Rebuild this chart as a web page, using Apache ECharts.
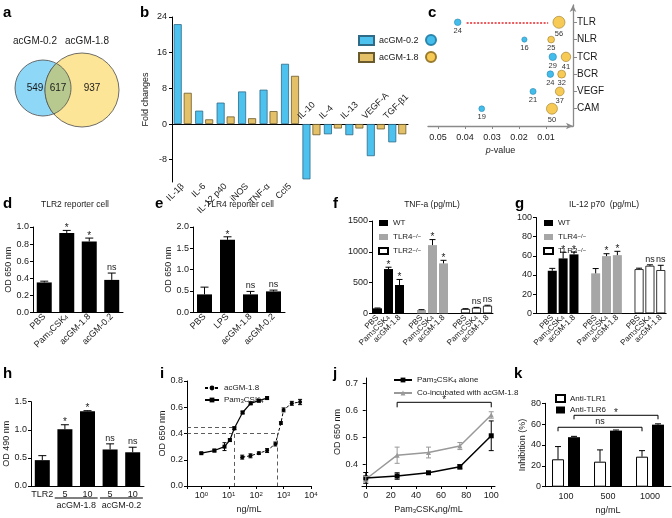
<!DOCTYPE html>
<html><head><meta charset="utf-8">
<script src="https://cdn.jsdelivr.net/npm/echarts@6/dist/echarts.min.js"></script>
<style>html,body{margin:0;padding:0;background:#fff}#c{width:672px;height:518px}</style>
</head><body><div id="c"></div>
<script>
// ---------------- DATA ----------------
// a: Venn
const vennNames = ['acGM-0.2', 'acGM-1.8'];
const vennCounts = [549, 617, 937];
// b: fold changes
const bCategories = ['IL-1β','IL-6','IL-12 p40','iNOS','TNF-α','Ccl5','IL-10','IL-4','IL-13','VEGF-A','TGF-β1'];
const bAcGM02 = [22.4, 3.0, 4.8, 7.3, 7.7, 13.5, -12.4, -2.3, -2.5, -7.2, -4.1];
const bAcGM18 = [7.0, 1.05, 1.7, 1.3, 2.9, 10.8, -2.5, -1.0, -1.0, -1.2, -2.3];
const bTicks = [-8, 0, 8, 16, 24];
// c: pathways (bottom to top)
const cPathways = ['CAM','VEGF','BCR','TCR','NLR','TLR'];
const cP02 = [0.0338, 0.0148, 0.0084, 0.0075, 0.018, 0.0427];
const cN02 = [19, 21, 24, 29, 16, 24];
const cP18 = [0.0078, 0.0049, 0.0042, 0.0026, 0.0081, 0.0052];
const cN18 = [50, 37, 32, 41, 25, 56];
const cTicks = [0.01, 0.02, 0.03, 0.04, 0.05];
// d: TLR2 reporter
const dCategories = ['PBS','Pam3CSK4','acGM-1.8','acGM-0.2'];
const dMean = [0.35, 0.93, 0.83, 0.38];
const dErr = [0.015, 0.03, 0.04, 0.08];
const dSig = ['', '*', '*', 'ns'];
// e: TLR4 reporter
const eCategories = ['PBS','LPS','acGM-1.8','acGM-0.2'];
const eMean = [0.42, 1.70, 0.42, 0.49];
const eErr = [0.17, 0.07, 0.07, 0.03];
const eSig = ['', '*', 'ns', 'ns'];
// f/g groups
const fgTreatments = ['PBS','Pam3CSK4','acGM-1.8'];
const fgGenotypes = ['WT','TLR4','TLR2'];
const fgSig = [['', '*', '*'], ['', '*', '*'], ['', 'ns', 'ns']];
// f: TNF-a
const fWT = [81, 719, 460];     const fWTErr = [5, 30, 90];
const fTLR4 = [54, 1108, 811];  const fTLR4Err = [5, 90, 50];
const fTLR2 = [70, 91, 123];    const fTLR2Err = [5, 5, 8];
// g: IL-12 p70
const gWT = [44.4, 57.3, 61.5];   const gWTErr = [2.5, 6.5, 2.5];
const gTLR4 = [41.7, 59.7, 60.7]; const gTLR4Err = [5, 2.5, 4];
const gTLR2 = [46.1, 49.6, 45.1]; const gTLR2Err = [1, 1, 5];
// h
const hCategories = ['TLR2','5','10','5','10'];
const hGroups = ['acGM-1.8','acGM-0.2'];
const hMean = [0.46, 1.01, 1.33, 0.65, 0.60];
const hErr = [0.08, 0.08, 0.01, 0.10, 0.09];
const hSig = ['', '*', '*', 'ns', 'ns'];
// i: dose response (log x)
const iAcGMConc = [31, 62, 125, 250, 500, 800, 1000, 2000, 4000];
const iAcGMOD   = [0.22, 0.23, 0.25, 0.27, 0.32, 0.48, 0.58, 0.63, 0.64];
const iAcGMErr  = [0.015, 0.015, 0.01, 0.015, 0.015, 0.01, 0.015, 0.015, 0.02];
const iPamConc = [1, 3, 7, 11, 16, 32, 63, 125, 250];
const iPamOD   = [0.25, 0.27, 0.30, 0.35, 0.44, 0.56, 0.63, 0.65, 0.67];
const iPamErr  = [0.005, 0.01, 0.03, 0.01, 0.01, 0.01, 0.01, 0.01, 0.01];
const iRefOD = [0.45, 0.40];
const iRefConc = [16, 600];
// j
const jConc = [0, 25, 50, 75, 100];
const jAlone = [0.350, 0.357, 0.369, 0.391, 0.506];
const jAloneErr = [0.02, 0.012, 0.004, 0.008, 0.055];
const jCo = [0.345, 0.434, 0.444, 0.468, 0.583];
const jCoErr = [0.01, 0.03, 0.02, 0.013, 0.012];
const jXTicks = [0, 20, 40, 60, 80, 100];
const jYTicks = [0.4, 0.5, 0.6, 0.7];
// k
const kCategories = ['100','500','1000'];
const kTLR1 = [26.3, 24.0, 28.8]; const kTLR1Err = [12.2, 11.3, 5.8];
const kTLR6 = [47.5, 53.8, 59.5]; const kTLR6Err = [0.8, 0.6, 0.8];

// ---------------- HELPERS ----------------
const FONT = '"Liberation Sans", Arial, Helvetica, sans-serif';
const INK = '#1a1a1a';
const BLUE = '#4ec2ef', BLUE_B = '#2f6a86', YEL = '#e4c068', YEL_B = '#6b5a2c';
const GRAY = '#a6a6a6';
function merge(a, b) {
  const r = Object.assign({}, a);
  for (const k in b) {
    const v = b[k];
    if (v && typeof v === 'object' && !Array.isArray(v) && a[k] && typeof a[k] === 'object' && !Array.isArray(a[k])) r[k] = merge(a[k], v);
    else r[k] = v;
  }
  return r;
}
const richSub = {
  sub: {fontSize: 6, lineHeight: 6, verticalAlign: 'bottom', fontFamily: FONT, color: INK},
  sup: {fontSize: 6, lineHeight: 6, verticalAlign: 'top', fontFamily: FONT, color: INK},
  i: {fontStyle: 'italic', fontSize: 9, fontFamily: FONT, color: INK}
};
const subFmt = s => s.replace('Pam3CSK4', 'Pam{sub|3}CSK{sub|4}');
const blackLine = {show: true, lineStyle: {color: '#000', width: 1}};
function yVal(gi, o) {
  return merge({type: 'value', gridIndex: gi, axisLine: blackLine,
    axisTick: {show: true, length: 3, lineStyle: {color: '#000'}},
    axisLabel: {fontSize: 9, margin: 4, color: INK, formatter: v => String(v)},
    splitLine: {show: false}, nameLocation: 'middle',
    nameTextStyle: {fontSize: 9, color: INK, rich: richSub}}, o);
}
function xCat(gi, data, o) {
  return merge({type: 'category', gridIndex: gi, data: data, axisLine: blackLine,
    axisTick: {show: false},
    axisLabel: {fontSize: 9, margin: 3, interval: 0, color: INK, rich: richSub, formatter: v => subFmt(v)},
    nameLocation: 'middle', nameTextStyle: {fontSize: 9, color: INK, rich: richSub}}, o);
}
function errSeries(ai, pts, opts) {
  return {
    type: 'custom', xAxisIndex: ai, yAxisIndex: ai, z: 6, silent: true,
    data: pts.map(p => [p.x, p.y, p.e]),
    renderItem: (params, api) => {
      const p = pts[params.dataIndex];
      const c = api.coord([p.x, p.y]);
      const t = api.coord([p.x, p.y + p.e]);
      const b = api.coord([p.x, p.y - p.e]);
      const x = c[0] + (p.off || 0);
      const cw = opts.cap;
      const st = {stroke: p.color || '#000', lineWidth: 1};
      const ch = [];
      if (p.e > 0) {
        ch.push({type: 'line', shape: {x1: x, y1: opts.both ? b[1] : c[1], x2: x, y2: t[1]}, style: st});
        ch.push({type: 'line', shape: {x1: x - cw, y1: t[1], x2: x + cw, y2: t[1]}, style: st});
        if (opts.both) ch.push({type: 'line', shape: {x1: x - cw, y1: b[1], x2: x + cw, y2: b[1]}, style: st});
      }
      const top = p.e > 0 ? t[1] : c[1];
      if (p.label) ch.push({type: 'text', x: x, y: top - (p.label === '*' ? -3 : 1),
        style: {text: p.label, textAlign: 'center', textVerticalAlign: 'bottom',
          fontSize: p.label === '*' ? 10 : 9, fontFamily: FONT, fill: INK}});
      return {type: 'group', children: ch};
    }
  };
}
function bracketSeries(ai, items, tick) {
  return {
    type: 'custom', xAxisIndex: ai, yAxisIndex: ai, z: 6, silent: true,
    data: items.map(it => [it.x1, it.y, it.x2]),
    renderItem: (params, api) => {
      const it = items[params.dataIndex];
      const a = api.coord([it.x1, it.y]);
      const b = api.coord([it.x2, it.y]);
      const o = it.off || 0;
      return {type: 'group', children: [
        {type: 'polyline', shape: {points: [[a[0] + o, a[1] + tick], [a[0] + o, a[1]], [b[0] + o, b[1]], [b[0] + o, b[1] + tick]]},
          style: {stroke: '#000', lineWidth: 1, fill: null}},
        {type: 'text', x: (a[0] + b[0]) / 2 + o, y: a[1] - (it.label === '*' ? -3 : 1),
          style: {text: it.label, textAlign: 'center', textVerticalAlign: 'bottom',
            fontSize: it.label === '*' ? 10 : 9, fontFamily: FONT, fill: INK}}
      ]};
    }
  };
}
function txt(x, y, s, size, o) {
  return merge({type: 'text', x: x, y: y, silent: true,
    style: {text: s, fontSize: size, fontFamily: FONT, fill: INK, textAlign: 'center', textVerticalAlign: 'middle'}}, o || {});
}
function letter(x, y, s) {
  return txt(x, y, s, 15, {style: {fontWeight: 'bold', textAlign: 'left', textVerticalAlign: 'top', fill: '#000'}});
}
// Venn lens (intersection of two circles) as polygon
function lens(c1, r1, c2, r2) {
  const dx = c2[0] - c1[0], dy = c2[1] - c1[1], d = Math.hypot(dx, dy);
  const a = (d * d + r1 * r1 - r2 * r2) / (2 * d);
  const h = Math.sqrt(r1 * r1 - a * a);
  const ux = dx / d, uy = dy / d;
  const m = [c1[0] + a * ux, c1[1] + a * uy];
  const p1 = [m[0] - h * uy, m[1] + h * ux], p2 = [m[0] + h * uy, m[1] - h * ux];
  const pts = [];
  const arc = (c, r, from, to, n) => {
    let a0 = Math.atan2(from[1] - c[1], from[0] - c[0]);
    let a1 = Math.atan2(to[1] - c[1], to[0] - c[0]);
    let diff = a1 - a0;
    while (diff > Math.PI) diff -= 2 * Math.PI;
    while (diff < -Math.PI) diff += 2 * Math.PI;
    for (let k = 0; k <= n; k++) { const t = a0 + diff * k / n; pts.push([c[0] + r * Math.cos(t), c[1] + r * Math.sin(t)]); }
  };
  arc(c1, r1, p1, p2, 40);
  arc(c2, r2, p2, p1, 40);
  return pts;
}

// f / g slot layout
const fCats = [], gCats = [' '];
fgGenotypes.forEach((g, gi) => {
  fgTreatments.forEach(t => { fCats.push(t); gCats.push(t); });
  if (gi < fgGenotypes.length - 1) { fCats.push(' '.repeat(gi + 2)); gCats.push(' '.repeat(gi + 2)); }
});
const fSlot = (g, t) => g * 4 + t;
const gSlot = (g, t) => 1 + g * 4 + t;
const genoColors = ['#000', GRAY, '#fff'];
function groupSeries(ai, vals, slotFn, n) {
  return vals.map((v, g) => {
    const arr = new Array(n).fill('-');
    v.forEach((y, t) => { arr[slotFn(g, t)] = y; });
    return {type: 'bar', name: fgGenotypes[g], xAxisIndex: ai, yAxisIndex: ai, stack: 's' + ai, barWidth: 9,
      data: arr, itemStyle: {color: genoColors[g], borderColor: '#000', borderWidth: g === 2 ? 0.8 : 0}};
  });
}
function groupErr(ai, vals, errs, slotFn) {
  const pts = [];
  vals.forEach((v, g) => v.forEach((y, t) => pts.push({x: slotFn(g, t), y: y, e: errs[g][t], label: fgSig[g][t]})));
  return errSeries(ai, pts, {cap: 3});
}
const genoFmt = n => n === 'WT' ? 'WT' : n + '{sup|−/−}';
const iNames = {iAcGM: 'acGM-1.8', iPam: 'Pam{sub|3}CSK{sub|4}'};
const jNames = {jAlone: 'Pam{sub|3}CSK{sub|4} alone', jCo: 'Co-incubated with acGM-1.8'};
const I_MIN = 0.3;
const legendText = {fontSize: 8, color: INK, fontFamily: FONT, rich: richSub};
const vennBlue = [[43, 88], 28], vennYel = [[82, 90], 37];

// ---------------- OPTION ----------------
const G = (left, top, width, height) => ({left, top, width, height});
const option = {
  animation: false,
  textStyle: {fontFamily: FONT, color: INK},
  grid: [
    G(172, 17, 236, 165),     // b
    G(428, 1.4, 145, 124.6),  // c
    G(33, 227, 90, 85.3),     // d
    G(193, 227, 92, 85.3),    // e
    G(372, 221, 121, 92.3),   // f
    G(536, 217.5, 130.2, 95.8), // g
    G(31, 401.7, 113, 84.3),  // h
    G(187, 381, 124, 105),    // i
    G(362, 378, 133, 108),    // j
    G(545, 403.3, 126, 83.4)  // k
  ],
  xAxis: [
    xCat(0, bCategories, {axisLabel: {rotate: 45, margin: 3, formatter: (v, i) => bAcGM02[i] >= 0 ? v : ''}}),
    {type: 'value', gridIndex: 1, inverse: true, min: 0, max: 0.0537,
      axisLine: {show: true, symbol: ['none', 'arrow'], symbolSize: [5, 7], lineStyle: {color: '#8a8a8a', width: 1.3}},
      axisTick: {show: true, length: 3, customValues: cTicks, lineStyle: {color: '#8a8a8a'}},
      axisLabel: {customValues: cTicks, formatter: v => v.toFixed(2), fontSize: 9, margin: 7, color: INK},
      splitLine: {show: false}, name: '{i|p}-value', nameLocation: 'middle', nameGap: 20,
      nameTextStyle: {fontSize: 9, color: INK, rich: richSub}},
    xCat(2, dCategories, {axisLabel: {rotate: 45}}),
    xCat(3, eCategories, {axisLabel: {rotate: 45}}),
    xCat(4, fCats, {axisLabel: {rotate: 45, fontSize: 8}}),
    xCat(5, gCats, {axisLabel: {rotate: 45, fontSize: 8}}),
    xCat(6, hCategories, {axisLabel: {margin: 4}}),
    {type: 'log', gridIndex: 7, logBase: 10, min: I_MIN, max: 10000, axisLine: blackLine,
      axisTick: {show: true, length: 3, lineStyle: {color: '#000'}},
      axisLabel: {fontSize: 9, margin: 5, color: INK, rich: richSub, formatter: v => {
        const e = Math.log10(v), r = Math.round(e);
        return Math.abs(e - r) < 1e-6 ? '10{sup|' + r + '}' : '';
      }},
      splitLine: {show: false}, name: 'ng/mL', nameLocation: 'middle', nameGap: 19,
      nameTextStyle: {fontSize: 9, color: INK}},
    {type: 'value', gridIndex: 8, min: -3, max: 103, axisLine: blackLine,
      axisTick: {show: true, length: 3, customValues: jXTicks, lineStyle: {color: '#000'}},
      axisLabel: {customValues: jXTicks, fontSize: 9, margin: 5, color: INK},
      splitLine: {show: false}, name: 'Pam{sub|3}CSK{sub|4}ng/mL', nameLocation: 'middle', nameGap: 19,
      nameTextStyle: {fontSize: 9, color: INK, rich: richSub}},
    xCat(9, kCategories, {axisLabel: {margin: 5}, name: 'ng/mL', nameGap: 19})
  ],
  yAxis: [
    yVal(0, {min: -13, max: 24, axisTick: {customValues: bTicks}, axisLabel: {customValues: bTicks, margin: 5},
      name: 'Fold changes', nameGap: 22}),
    {type: 'category', gridIndex: 1, position: 'right', boundaryGap: false,
      data: [' '].concat(cPathways, ['  ']),
      axisLine: {show: true, symbol: ['none', 'arrow'], symbolSize: [5, 7], lineStyle: {color: '#8a8a8a', width: 1.3}},
      axisTick: {show: true, length: 4, interval: (i, v) => v.trim() !== '', lineStyle: {color: '#8a8a8a'}},
      axisLabel: {fontSize: 10, margin: 4, interval: 0, color: INK}},
    yVal(2, {min: 0, max: 1, interval: 0.2, axisLabel: {formatter: v => v.toFixed(1)}, name: 'OD 650 nm', nameGap: 20}),
    yVal(3, {min: 0, max: 2, interval: 0.5, axisLabel: {formatter: v => v.toFixed(1)}, name: 'OD 650 nm', nameGap: 20}),
    yVal(4, {min: 0, max: 1500, interval: 500}),
    yVal(5, {min: 0, max: 100, interval: 20}),
    yVal(6, {min: 0, max: 1.5, interval: 0.5, axisLabel: {formatter: v => v.toFixed(1)}, name: 'OD 490 nm', nameGap: 20}),
    yVal(7, {min: 0, max: 0.8, interval: 0.2, axisLabel: {formatter: v => v.toFixed(1)}, name: 'OD 650 nm', nameGap: 20}),
    yVal(8, {min: 0.32, max: 0.72, axisTick: {customValues: jYTicks}, axisLabel: {customValues: jYTicks, formatter: v => v.toFixed(1)},
      name: 'OD 650 nm', nameGap: 20}),
    yVal(9, {min: 0, max: 80, interval: 20, name: 'Inhibition (%)', nameGap: 16})
  ],
  legend: [
    {data: ['acGM-0.2', 'acGM-1.8'], left: 353, top: 30, orient: 'vertical', icon: 'rect', itemWidth: 15, itemHeight: 9,
      itemGap: 6, selectedMode: false, textStyle: {fontSize: 9, color: INK}},
    {data: ['c02', 'c18'], left: 420, top: 29, orient: 'vertical', icon: 'circle', itemWidth: 10, itemHeight: 10,
      itemGap: 5, selectedMode: false, formatter: () => ''},
    {data: fgGenotypes, left: 373, top: 214, orient: 'vertical', icon: 'rect', itemWidth: 9, itemHeight: 6, itemGap: 6,
      selectedMode: false, formatter: genoFmt, textStyle: legendText},
    {data: fgGenotypes, left: 538, top: 214, orient: 'vertical', icon: 'rect', itemWidth: 9, itemHeight: 6, itemGap: 6,
      selectedMode: false, formatter: genoFmt, textStyle: legendText},
    {data: ['iAcGM', 'iPam'], left: 199, top: 379, orient: 'vertical', itemWidth: 14, itemHeight: 6, itemGap: 4,
      selectedMode: false, formatter: n => iNames[n], textStyle: legendText},
    {data: ['jAlone', 'jCo'], left: 388, top: 371, orient: 'vertical', itemWidth: 18, itemHeight: 6, itemGap: 5,
      selectedMode: false, formatter: n => jNames[n], textStyle: legendText},
    {data: ['Anti-TLR1', 'Anti-TLR6'], left: 550, top: 389, orient: 'vertical', icon: 'rect', itemWidth: 9, itemHeight: 7,
      itemGap: 3, selectedMode: false, textStyle: legendText}
  ],
  series: [].concat(
    // b
    [{type: 'bar', name: 'acGM-0.2', xAxisIndex: 0, yAxisIndex: 0, data: bAcGM02, barWidth: 8, barGap: '25%',
      itemStyle: {color: BLUE, borderColor: BLUE_B, borderWidth: 0.8}},
     {type: 'bar', name: 'acGM-1.8', xAxisIndex: 0, yAxisIndex: 0, data: bAcGM18, barWidth: 8, barGap: '25%',
      itemStyle: {color: YEL, borderColor: YEL_B, borderWidth: 0.8}},
     {type: 'custom', xAxisIndex: 0, yAxisIndex: 0, z: 6, silent: true,
      data: bCategories.map((c, i) => [i, 0]).filter((d, i) => bAcGM02[i] < 0),
      renderItem: (params, api) => {
        const i = api.value(0);
        const p = api.coord([i, 0]);
        const w = api.size([1, 0])[0];
        return {type: 'text', x: p[0] - 0.42 * w, y: p[1] - 3, rotation: Math.PI / 4,
          style: {text: bCategories[i], fontSize: 9, fontFamily: FONT, fill: INK, textAlign: 'left', textVerticalAlign: 'bottom'}};
      }}],
    // c
    [{type: 'scatter', name: 'c02', xAxisIndex: 1, yAxisIndex: 1, z: 4,
      data: cP02.map((p, i) => [p, cPathways[i], cN02[i]]),
      symbolSize: d => 2.5 + 0.17 * d[2],
      itemStyle: {color: '#43bdec', borderColor: '#2b86ad', borderWidth: 0.6, opacity: 1},
      label: {show: true, position: 'bottom', distance: 1, formatter: p => p.data[2], fontSize: 7.5, color: '#333'},
      markLine: {silent: true, symbol: 'none', label: {show: false}, z: 2,
        lineStyle: {color: '#e3262b', type: [2, 1.5], width: 1.5},
        data: [[{coord: [cP02[5] - 0.0033, cPathways[5]]}, {coord: [cP18[5] + 0.004, cPathways[5]]}]]}},
     {type: 'scatter', name: 'c18', xAxisIndex: 1, yAxisIndex: 1, z: 4,
      data: cP18.map((p, i) => [p, cPathways[i], cN18[i]]),
      symbolSize: d => 2.5 + 0.17 * d[2],
      itemStyle: {color: '#f6ca55', borderColor: '#9a7a2c', borderWidth: 0.6, opacity: 1},
      label: {show: true, position: 'bottom', distance: 1, formatter: p => p.data[2], fontSize: 7.5, color: '#333'}}],
    // d
    [{type: 'bar', name: 'd', xAxisIndex: 2, yAxisIndex: 2, data: dMean, barWidth: 15, itemStyle: {color: '#000'}},
     errSeries(2, dMean.map((y, i) => ({x: i, y: y, e: dErr[i], label: dSig[i]})), {cap: 4})],
    // e
    [{type: 'bar', name: 'e', xAxisIndex: 3, yAxisIndex: 3, data: eMean, barWidth: 15, itemStyle: {color: '#000'}},
     errSeries(3, eMean.map((y, i) => ({x: i, y: y, e: eErr[i], label: eSig[i]})), {cap: 4})],
    // f
    groupSeries(4, [fWT, fTLR4, fTLR2], fSlot, fCats.length),
    [groupErr(4, [fWT, fTLR4, fTLR2], [fWTErr, fTLR4Err, fTLR2Err], fSlot)],
    // g
    groupSeries(5, [gWT, gTLR4, gTLR2], gSlot, gCats.length),
    [groupErr(5, [gWT, gTLR4, gTLR2], [gWTErr, gTLR4Err, gTLR2Err], gSlot)],
    // h
    [{type: 'bar', name: 'h', xAxisIndex: 6, yAxisIndex: 6, data: hMean, barWidth: 15, itemStyle: {color: '#000'}},
     errSeries(6, hMean.map((y, i) => ({x: i, y: y, e: hErr[i], label: hSig[i]})), {cap: 4}),
     {type: 'custom', xAxisIndex: 6, yAxisIndex: 6, silent: true, data: [[1, 2], [3, 4]],
      renderItem: (params, api) => {
        const a = api.coord([api.value(0), 0]);
        const b = api.coord([api.value(1), 0]);
        const w = api.size([1, 0])[0];
        const y = a[1] + 12;
        return {type: 'group', children: [
          {type: 'line', shape: {x1: a[0] - 0.45 * w, y1: y, x2: b[0] + 0.45 * w, y2: y}, style: {stroke: '#000', lineWidth: 1}},
          {type: 'text', x: (a[0] + b[0]) / 2, y: y + 3, style: {text: hGroups[params.dataIndex], textAlign: 'center',
            textVerticalAlign: 'top', fontSize: 9, fontFamily: FONT, fill: INK}}]};
      }}],
    // i
    [{type: 'line', name: 'iAcGM', xAxisIndex: 7, yAxisIndex: 7, data: iAcGMConc.map((c, k) => [c, iAcGMOD[k]]),
      symbol: 'circle', symbolSize: 4, itemStyle: {color: '#000'}, lineStyle: {color: '#000', width: 1, type: [3, 2]},
      markLine: {silent: true, symbol: 'none', label: {show: false}, lineStyle: {color: '#333', type: [4, 3], width: 0.8},
        data: [
          [{coord: [I_MIN, iRefOD[0]]}, {coord: [iRefConc[0], iRefOD[0]]}],
          [{coord: [iRefConc[0], iRefOD[0]]}, {coord: [iRefConc[0], 0]}],
          [{coord: [I_MIN, iRefOD[1]]}, {coord: [iRefConc[1], iRefOD[1]]}],
          [{coord: [iRefConc[1], iRefOD[1]]}, {coord: [iRefConc[1], 0]}]
        ]}},
     {type: 'line', name: 'iPam', xAxisIndex: 7, yAxisIndex: 7, data: iPamConc.map((c, k) => [c, iPamOD[k]]),
      symbol: 'rect', symbolSize: 4, itemStyle: {color: '#000'}, lineStyle: {color: '#000', width: 1.2}},
     errSeries(7, iAcGMConc.map((c, k) => ({x: c, y: iAcGMOD[k], e: iAcGMErr[k]}))
       .concat(iPamConc.map((c, k) => ({x: c, y: iPamOD[k], e: iPamErr[k]}))), {cap: 2, both: true})],
    // j
    [{type: 'line', name: 'jAlone', xAxisIndex: 8, yAxisIndex: 8, data: jConc.map((c, k) => [c, jAlone[k]]),
      symbol: 'rect', symbolSize: 5, itemStyle: {color: '#000'}, lineStyle: {color: '#000', width: 1.5}, z: 3},
     {type: 'line', name: 'jCo', xAxisIndex: 8, yAxisIndex: 8, data: jConc.map((c, k) => [c, jCo[k]]),
      symbol: 'triangle', symbolSize: 5, itemStyle: {color: '#999'}, lineStyle: {color: '#999', width: 1.5}, z: 2},
     errSeries(8, jConc.map((c, k) => ({x: c, y: jAlone[k], e: jAloneErr[k]}))
       .concat(jConc.map((c, k) => ({x: c, y: jCo[k], e: jCoErr[k], color: '#999'}))), {cap: 2.5, both: true}),
     bracketSeries(8, [{x1: jConc[1], x2: jConc[4], y: 0.63, label: '*'}], 5)],
    // k
    [{type: 'bar', name: 'Anti-TLR1', xAxisIndex: 9, yAxisIndex: 9, data: kTLR1, barWidth: 12, barGap: '33%',
      itemStyle: {color: '#fff', borderColor: '#000', borderWidth: 1}},
     {type: 'bar', name: 'Anti-TLR6', xAxisIndex: 9, yAxisIndex: 9, data: kTLR6, barWidth: 12, barGap: '33%',
      itemStyle: {color: '#000'}},
     errSeries(9, kTLR1.map((y, i) => ({x: i, y: y, e: kTLR1Err[i], off: -8}))
       .concat(kTLR6.map((y, i) => ({x: i, y: y, e: kTLR6Err[i], off: 8}))), {cap: 3}),
     bracketSeries(9, [{x1: 0, x2: 2, y: 57, label: 'ns', off: -8}, {x1: 0, x2: 2, y: 68.5, label: '*', off: 8}], 4)]
  ),
  graphic: [
    // Venn diagram (a)
    {type: 'circle', silent: true, shape: {cx: vennBlue[0][0], cy: vennBlue[0][1], r: vennBlue[1]}, style: {fill: '#8fd7f7', stroke: '#4a4a4a', lineWidth: 0.8}},
    {type: 'circle', silent: true, shape: {cx: vennYel[0][0], cy: vennYel[0][1], r: vennYel[1]}, style: {fill: '#fde597', stroke: '#4a4a4a', lineWidth: 0.8}},
    {type: 'polygon', silent: true, shape: {points: lens(vennBlue[0], vennBlue[1], vennYel[0], vennYel[1])},
      style: {fill: '#b7c98e', stroke: '#4a4a4a', lineWidth: 0.8}},
    txt(35, 41, vennNames[0], 10), txt(87, 41, vennNames[1], 10),
    txt(35, 88, String(vennCounts[0]), 10), txt(58, 88, String(vennCounts[1]), 10), txt(92, 88, String(vennCounts[2]), 10),
    // panel titles
    txt(75, 205, 'TLR2 reporter cell', 8.5), txt(240, 205, 'TLR4 reporter cell', 8.5),
    txt(432, 205, 'TNF-a (pg/mL)', 8.5), txt(604, 205, 'IL-12 p70  (pg/mL)', 8.5),
    // panel letters
    letter(3, 5, 'a'), letter(140, 5, 'b'), letter(428, 5, 'c'),
    letter(3, 196, 'd'), letter(155, 196, 'e'), letter(333, 196, 'f'), letter(515, 196, 'g'),
    letter(3, 366, 'h'), letter(160, 366, 'i'), letter(333, 366, 'j'), letter(514, 366, 'k')
  ]
};
const chart = echarts.init(document.getElementById('c'), null, {renderer: 'canvas'});
chart.setOption(option);
</script></body></html>
